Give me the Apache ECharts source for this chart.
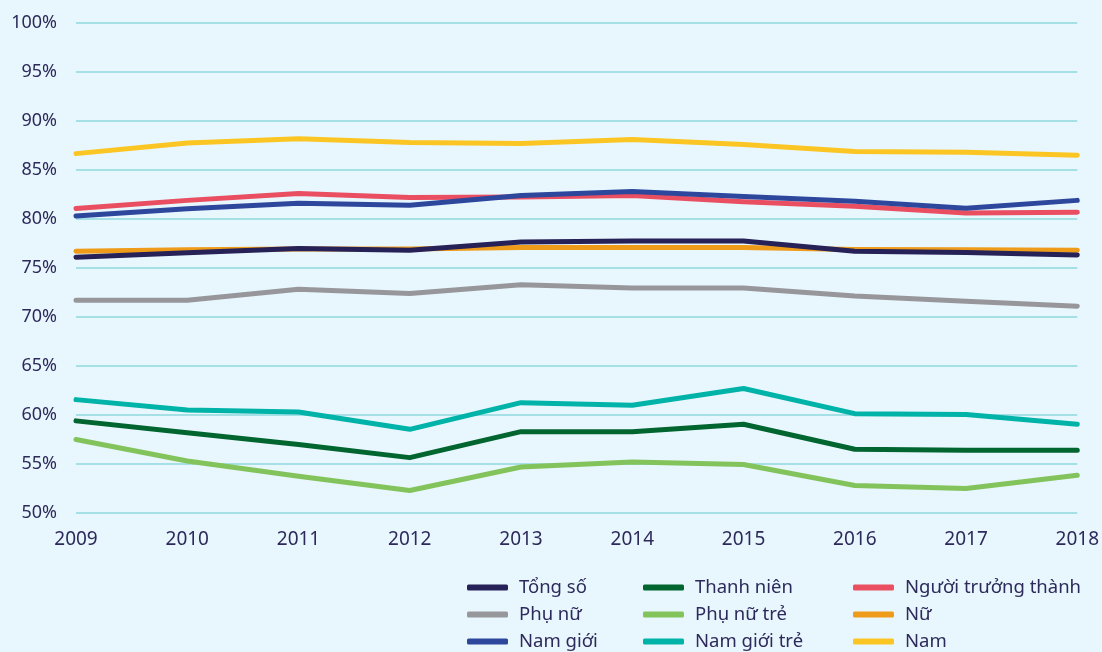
<!DOCTYPE html>
<html>
<head>
<meta charset="utf-8">
<script src="https://cdn.jsdelivr.net/npm/echarts@6/dist/echarts.min.js"></script>
<style>
  html, body { margin: 0; padding: 0; background: #e8f6fd; }
  #main { width: 1102px; height: 652px; }
</style>
</head>
<body>
<div id="main"></div>
<script>
// năm
const years = ['2009', '2010', '2011', '2012', '2013', '2014', '2015', '2016', '2017', '2018'];

// tỷ lệ (%)
const tongSo = [76.1, 76.55, 77.0, 76.8, 77.65, 77.75, 77.75, 76.7, 76.57, 76.33];
const phuNu = [71.7, 71.7, 72.83, 72.4, 73.3, 72.96, 72.96, 72.15, 71.6, 71.1];
const namGioi = [80.3, 81.05, 81.6, 81.4, 82.4, 82.8, 82.3, 81.8, 81.1, 81.9];
const thanhNien = [59.4, 58.2, 57.0, 55.65, 58.3, 58.3, 59.05, 56.5, 56.4, 56.4];
const phuNuTre = [57.5, 55.3, 53.75, 52.3, 54.7, 55.2, 54.95, 52.8, 52.5, 53.85];
const namGioiTre = [61.57, 60.5, 60.3, 58.54, 61.26, 61.0, 62.7, 60.14, 60.04, 59.05];
const nguoiTruongThanh = [81.06, 81.9, 82.6, 82.2, 82.25, 82.4, 81.75, 81.3, 80.6, 80.7];
const nu = [76.7, 76.85, 76.95, 76.95, 77.1, 77.1, 77.1, 76.9, 76.85, 76.8];
const nam = [86.67, 87.76, 88.2, 87.8, 87.7, 88.1, 87.6, 86.9, 86.8, 86.5];

const colors = {
  'Tổng số': '#262157',
  'Phụ nữ': '#97979b',
  'Nam giới': '#2d479c',
  'Thanh niên': '#00652f',
  'Phụ nữ trẻ': '#82c35c',
  'Nam giới trẻ': '#00b3a8',
  'Người trưởng thành': '#e94e61',
  'Nữ': '#ef9b1a',
  'Nam': '#fbc624'
};

const textColor = '#2d2a5b';
const font = 'Noto Sans';

// thứ tự vẽ (sau = nằm trên)
const seriesList = [
  ['Nam', nam],
  ['Người trưởng thành', nguoiTruongThanh],
  ['Nam giới', namGioi],
  ['Nữ', nu],
  ['Tổng số', tongSo],
  ['Phụ nữ', phuNu],
  ['Nam giới trẻ', namGioiTre],
  ['Thanh niên', thanhNien],
  ['Phụ nữ trẻ', phuNuTre]
];

const legendCols = [
  { left: 467, names: ['Tổng số', 'Phụ nữ', 'Nam giới'] },
  { left: 643, names: ['Thanh niên', 'Phụ nữ trẻ', 'Nam giới trẻ'] },
  { left: 853, names: ['Người trưởng thành', 'Nữ', 'Nam'] }
];

const chart = echarts.init(document.getElementById('main'));

chart.setOption({
  backgroundColor: '#e8f6fd',
  animation: false,
  grid: { left: 76, right: 14, top: 23, bottom: 139 },
  legend: legendCols.map(c => ({
    orient: 'vertical',
    left: c.left,
    top: 578,
    height: 120,
    padding: 0,
    itemWidth: 41,
    itemHeight: 6,
    itemGap: 8,
    icon: 'roundRect',
    data: c.names,
    selectedMode: false,
    textStyle: {
      fontFamily: font,
      fontSize: 18.5,
      lineHeight: 18,
      color: textColor,
      padding: [0, 0, 0, 6]
    }
  })),
  xAxis: {
    type: 'category',
    data: years,
    boundaryGap: false,
    axisLine: { show: false },
    axisTick: { show: false },
    axisLabel: {
      color: textColor,
      fontFamily: font,
      fontSize: 19,
      margin: 17
    }
  },
  yAxis: {
    type: 'value',
    min: 50,
    max: 100,
    interval: 5,
    axisLine: { show: false },
    axisTick: { show: false },
    axisLabel: {
      formatter: '{value}%',
      color: textColor,
      fontFamily: font,
      fontSize: 18,
      lineHeight: 18,
      margin: 19,
      verticalAlign: 'middle',
      padding: [0, 0, 12, 0]
    },
    splitLine: { lineStyle: { color: '#8fd8df', width: 1.5 } }
  },
  series: seriesList.map(([name, values]) => ({
    name: name,
    type: 'line',
    data: values,
    showSymbol: false,
    symbol: 'none',
    color: colors[name],
    lineStyle: { width: 5, cap: 'round', join: 'round', color: colors[name] }
  }))
});
</script>
</body>
</html>
